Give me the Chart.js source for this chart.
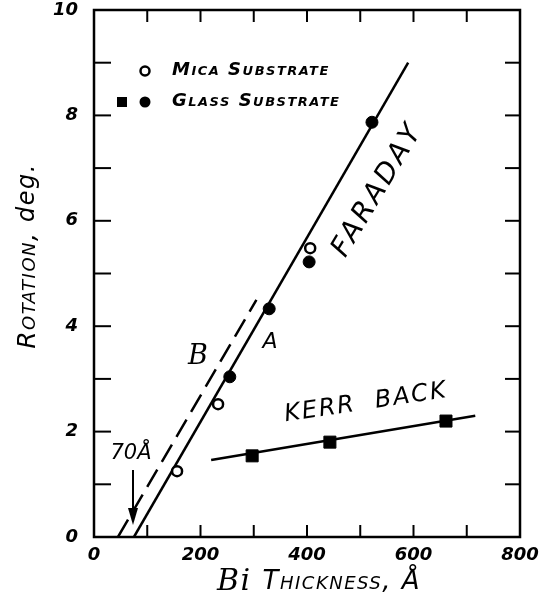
<!DOCTYPE html>
<html>
<head>
<meta charset="utf-8">
<script src="https://cdn.jsdelivr.net/npm/chart.js@4.4.1/dist/chart.umd.min.js"></script>
<style>
  html, body { margin: 0; padding: 0; background: #fff; }
  #wrap { width: 540px; height: 603px; }
</style>
</head>
<body>
<div id="wrap"><canvas id="rotChart"></canvas></div>
<script>
// values (x = Bi thickness in A, y = rotation in deg)
const micaX = [156, 233, 406];
const micaY = [1.25, 2.52, 5.48];
const glassX = [255, 329, 404, 522];
const glassY = [3.04, 4.33, 5.22, 7.87];
const kerrX = [297, 443, 661];
const kerrY = [1.54, 1.80, 2.20];

// hand drawn fit lines
const faradayX = [75, 590];
const faradayY = [0, 9];
const lineBX = [45, 305];
const lineBY = [0, 4.5];
const kerrLineX = [220, 716];
const kerrLineY = [1.46, 2.30];

const xLabelStep = 200;
const yLabelStep = 2;

function pts(xs, ys) {
    return xs.map((v, i) => ({ x: v, y: ys[i] }));
}

const handFont = '"DejaVu Sans", sans-serif';

// frame, inward ticks, legend and the written notes
const paperPlugin = {
    id: 'paper',
    afterDraw(chart) {
        const ctx = chart.ctx;
        const a = chart.chartArea;
        const xs = chart.scales.x;
        const ys = chart.scales.y;
        ctx.save();
        ctx.strokeStyle = '#000';
        ctx.fillStyle = '#000';
        ctx.lineWidth = 2.5;
        ctx.strokeRect(a.left, a.top, a.right - a.left, a.bottom - a.top);

        ctx.lineWidth = 2;
        const seg = (x1, y1, x2, y2) => {
            ctx.beginPath(); ctx.moveTo(x1, y1); ctx.lineTo(x2, y2); ctx.stroke();
        };
        xs.ticks.forEach(t => {
            const px = xs.getPixelForValue(t.value);
            if (px <= a.left + 2 || px >= a.right - 2) return;
            seg(px, a.bottom, px, a.bottom - 12);
            seg(px, a.top, px, a.top + 12);
        });
        ys.ticks.forEach(t => {
            const py = ys.getPixelForValue(t.value);
            if (py <= a.top + 2 || py >= a.bottom - 2) return;
            seg(a.left, py, a.left + 17, py);
            seg(a.right, py, a.right - 15, py);
        });

        // legend
        ctx.lineWidth = 2.5;
        ctx.beginPath(); ctx.arc(145, 71, 4.5, 0, Math.PI * 2); ctx.stroke();
        ctx.fillRect(117, 97, 10, 10);
        ctx.beginPath(); ctx.arc(145, 102, 5.5, 0, Math.PI * 2); ctx.fill();
        ctx.textBaseline = 'middle';
        ctx.textAlign = 'left';
        ctx.letterSpacing = '1.5px';
        ctx.font = 'italic small-caps bold 18px ' + handFont;
        ctx.fillText('Mica Substrate', 172, 70);
        ctx.fillText('Glass Substrate', 172, 101);

        // axis titles
        ctx.letterSpacing = '1.5px';
        const f1 = 'italic 30px "DejaVu Serif", serif';
        const f2 = 'italic small-caps 26px ' + handFont;
        ctx.font = f1; const w1 = ctx.measureText('Bi ').width;
        ctx.font = f2; const w2 = ctx.measureText('Thickness, Å').width;
        let sx = 319 - (w1 + w2) / 2;
        ctx.font = f1; ctx.fillText('Bi ', sx, 582);
        ctx.font = f2; ctx.fillText('Thickness, Å', sx + w1, 582);

        ctx.save();
        ctx.translate(28, 256);
        ctx.rotate(-Math.PI / 2);
        const g1 = 'italic small-caps 25px ' + handFont;
        const g2 = 'italic 24px ' + handFont;
        ctx.font = g1; const v1 = ctx.measureText('Rotation, ').width;
        ctx.font = g2; const v2 = ctx.measureText('deg.').width;
        ctx.font = g1; ctx.fillText('Rotation, ', -(v1 + v2) / 2, 0);
        ctx.font = g2; ctx.fillText('deg.', -(v1 + v2) / 2 + v1, 0);
        ctx.restore();

        // notes on the plot
        ctx.textAlign = 'center';
        ctx.save();
        ctx.translate(378, 190);
        ctx.rotate(-59 * Math.PI / 180);
        ctx.letterSpacing = '3px';
        ctx.font = 'italic 28px ' + handFont;
        ctx.fillText('FARADAY', 0, 0);
        ctx.restore();

        ctx.save();
        ctx.translate(366, 403);
        ctx.rotate(-8.5 * Math.PI / 180);
        ctx.letterSpacing = '2px';
        ctx.font = 'italic 24px ' + handFont;
        ctx.fillText('KERR  BACK', 0, 0);
        ctx.restore();

        ctx.letterSpacing = '0px';
        ctx.font = 'italic 22px ' + handFont;
        ctx.fillText('A', 270, 342);
        ctx.font = 'italic 27px "DejaVu Serif", serif';
        ctx.fillText('B', 198, 357);
        ctx.font = 'italic 21px ' + handFont;
        ctx.fillText('70Å', 131, 454);

        // arrow to the 70 A intercept
        ctx.lineWidth = 2;
        seg(133, 470, 133, 520);
        ctx.beginPath();
        ctx.moveTo(133, 525); ctx.lineTo(128, 508); ctx.lineTo(138, 508); ctx.closePath();
        ctx.fill();
        ctx.restore();
    }
};

const tickFont = { family: handFont, size: 18, style: 'italic', weight: 'bold' };

new Chart(document.getElementById('rotChart'), {
    type: 'scatter',
    data: {
        datasets: [
            {
                label: 'Mica substrate',
                data: pts(micaX, micaY),
                pointStyle: 'circle',
                pointRadius: 5,
                pointBorderWidth: 2.5,
                borderColor: '#000',
                backgroundColor: '#fff',
                order: 0
            },
            {
                label: 'Glass substrate',
                data: pts(glassX, glassY),
                pointStyle: 'circle',
                pointRadius: 6,
                pointBorderWidth: 1,
                borderColor: '#000',
                backgroundColor: '#000',
                order: 0
            },
            {
                label: 'Kerr back (glass)',
                data: pts(kerrX, kerrY),
                pointStyle: 'rect',
                pointRadius: 8.5,
                pointBorderWidth: 1,
                borderColor: '#000',
                backgroundColor: '#000',
                order: 0
            },
            {
                label: 'Faraday A',
                data: pts(faradayX, faradayY),
                showLine: true,
                pointRadius: 0,
                borderColor: '#000',
                borderWidth: 2.5,
                order: 1
            },
            {
                label: 'Faraday B',
                data: pts(lineBX, lineBY),
                showLine: true,
                pointRadius: 0,
                borderColor: '#000',
                borderWidth: 2.5,
                borderDash: [20, 9],
                order: 1
            },
            {
                label: 'Kerr back',
                data: pts(kerrLineX, kerrLineY),
                showLine: true,
                pointRadius: 0,
                borderColor: '#000',
                borderWidth: 2.5,
                order: 1
            }
        ]
    },
    options: {
        responsive: true,
        maintainAspectRatio: false,
        animation: false,
        layout: { padding: { top: 10, right: 20, left: 0, bottom: 0 } },
        plugins: {
            legend: { display: false },
            tooltip: { enabled: false }
        },
        scales: {
            x: {
                type: 'linear',
                min: 0,
                max: 800,
                grid: { display: false, drawTicks: false },
                border: { display: false },
                ticks: {
                    stepSize: 100,
                    padding: 8,
                    color: '#000',
                    font: tickFont,
                    maxRotation: 0,
                    callback: v => (v % xLabelStep === 0 ? String(v) : '')
                },
                afterFit: s => {
                    s.height = 66;
                    s.paddingLeft = 0;
                    s.paddingRight = 0;
                }
            },
            y: {
                type: 'linear',
                min: 0,
                max: 10,
                grid: { display: false, drawTicks: false },
                border: { display: false },
                ticks: {
                    stepSize: 1,
                    padding: 16,
                    color: '#000',
                    font: tickFont,
                    callback: v => (v % yLabelStep === 0 ? String(v) : '')
                },
                afterFit: s => {
                    s.width = 94;
                    s.paddingTop = 0;
                    s.paddingBottom = 0;
                }
            }
        }
    },
    plugins: [paperPlugin]
});
</script>
</body>
</html>
